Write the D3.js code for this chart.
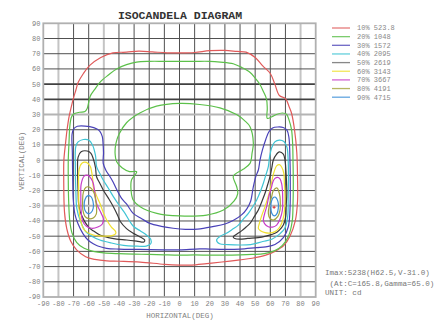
<!DOCTYPE html>
<html><head><meta charset="utf-8">
<script src="https://cdn.jsdelivr.net/npm/d3@7"></script>
<style>body{margin:0;background:#fff}svg{display:block}text{font-family:"Liberation Mono","DejaVu Sans Mono",monospace}</style>
</head><body><svg id="c" width="443" height="320"></svg>
<script>
const title = "ISOCANDELA DIAGRAM";
const xTicks = [-90,-80,-70,-60,-50,-40,-30,-20,-10,0,10,20,30,40,50,60,70,80,90];
const yTicks = [90,80,70,60,50,40,30,20,10,0,-10,-20,-30,-40,-50,-60,-70,-80,-90];
const levels = ["10%","20%","30%","40%","50%","60%","70%","80%","90%"];
const levelValues = ["523.8","1048","1572","2095","2619","3143","3667","4191","4715"];
const levelColors = ["#e05a5a","#5cc04a","#4a42b8","#40c4d4","#3a3a3a","#f0e030","#c83cc8","#a4a43c","#3c90d8"];
const infoLines = ["Imax:5238(H62.5,V-31.0)"," (At:C=165.8,Gamma=65.0)","UNIT: cd"];
const peak = [62.5,-31.0];

// contour polylines (H, V) in degrees, each closed
const c10 = [[-44,70.6],[-35,71],[-27,71.7],[-18,71.2],[-8,70.6],[0,70.5],[10,70.8],[20,72],[30,72.2],[38,71.5],[44,71],[50,67.5],[55,62],[60,57],[63,50],[66,42.5],[70,40.5],[72.5,35],[74,31],[76,20],[77.5,5],[78,-12],[78,-27],[76.5,-40],[73,-50],[69,-56],[63,-60],[57,-62.5],[48,-64.5],[40,-65.6],[28,-67],[18,-68],[8,-69],[0,-69],[-10,-68.5],[-26,-67],[-40,-66.5],[-48,-66.3],[-56,-65.3],[-62,-63.5],[-68,-59],[-72,-53],[-74.5,-45],[-76,-34],[-76.5,-12],[-76.4,0],[-75.2,12],[-74.3,20],[-72.9,29],[-71.5,35],[-70.3,40],[-68.5,46],[-67,51],[-63.5,57],[-59.3,62.3],[-52,67.5]];
const c20a = [[-73.5,0],[-73,12],[-72.5,22],[-71.5,28],[-70,30.3],[-66,31.5],[-62.5,32],[-61,34],[-60,38],[-59,42.1],[-56,46.5],[-52.6,51.2],[-47,56],[-41.6,60],[-35,62.8],[-28.4,64.5],[-20,65],[-10,65],[0,65],[10,65],[20,65],[27,64.5],[35.5,63.4],[41,61],[46.5,57.8],[50,54],[53,50.1],[55.5,45],[57.5,40.2],[58,34],[58,27.5],[61,28.5],[64,30],[68,31],[70.7,30.2],[72.5,26],[74,20.3],[74.8,10],[75,0],[75.2,-15],[75,-30],[74.5,-40],[72,-50],[68,-56],[63,-59.5],[56,-61.5],[48,-62],[40,-62.3],[30,-62.5],[20,-62.5],[10,-62.3],[0,-62.5],[-10,-62.3],[-20,-62],[-30,-61.8],[-40,-61.5],[-50,-61],[-57,-60],[-63,-58],[-68,-54],[-71,-48],[-72.5,-40],[-73.3,-25],[-73.5,-12]];
const c20b = [[0,37.3],[13.4,36.6],[26.7,34.4],[37.7,30],[43,26],[46.6,22],[48.8,11.1],[48,5],[46.6,-2.1],[42,-6],[37,-9],[35.5,-10.9],[37.8,-17.5],[38.5,-22],[36,-27],[29,-32.8],[18,-36.1],[0,-36.7],[-15,-35],[-26,-30.6],[-30.6,-26.2],[-32,-20],[-31.7,-13],[-28.3,-7.6],[-33,-7.5],[-38,-5],[-41.5,-1],[-42.6,5],[-42,11],[-40,17],[-35,24.6],[-26.2,31],[-15.2,35.5]];
const c30 = [[-71,17],[-70,20.5],[-67.5,22.3],[-59.3,22],[-54.5,20.5],[-52.6,19],[-51,15.5],[-50.5,11],[-50.2,4.8],[-50.4,-2.1],[-48.5,-7],[-45.9,-10.9],[-43.8,-14.5],[-41.5,-19.3],[-38,-25.5],[-34.9,-29],[-30.6,-35],[-25,-38.5],[-19.6,-41.6],[-12,-43.5],[-4.2,-44.8],[4,-45.5],[12,-45.3],[22,-43.7],[30,-42],[36,-39.4],[41,-36],[44.5,-32],[47,-27],[48.8,-17.4],[50.5,-10.5],[52.1,-6.5],[53.2,0],[54.8,6.7],[57,13.6],[59,18.5],[61.5,21.2],[65,21.8],[68.5,21.5],[71,19.8],[72.3,15],[73,0.1],[73.2,-15],[73,-32.8],[71.9,-43.8],[68.6,-51],[63.1,-55.5],[57,-57],[50.9,-57.5],[40,-58.5],[31,-58.7],[20,-58.5],[13.4,-58.3],[0.2,-59],[-10,-59],[-26.2,-58.7],[-40,-58.5],[-48.2,-58],[-54,-56.5],[-57,-55],[-60.5,-52.5],[-63.7,-48.5],[-67,-42],[-69,-36],[-70.2,-26],[-70.6,-10],[-70.8,5]];
const c40L = [[-68.5,9],[-67,12],[-63.5,13.6],[-60,13.2],[-57.5,10],[-55.5,3],[-54.8,-4.3],[-52.5,-9],[-50.4,-13.1],[-47,-18.5],[-43.7,-24],[-40,-29.5],[-36,-35],[-33,-40],[-30.5,-43.5],[-26,-46.5],[-21.5,-49.5],[-19,-52],[-19,-55],[-22,-56.5],[-30,-56.5],[-37,-56],[-45,-54.5],[-52.6,-52.5],[-58,-50],[-62,-47],[-65.5,-40],[-67.8,-32],[-68.5,-20],[-68.8,-5]];
const c40R = [[63,12],[66,13.2],[69,12.3],[71,8.5],[71.8,0],[72,-10.9],[71.8,-25],[71.5,-37],[69.5,-45],[66.3,-48.5],[61,-52],[55,-53.5],[47,-55.5],[40,-55.8],[32,-55.5],[26.5,-55],[24.5,-52.5],[27,-50],[31,-48.1],[35,-45.5],[38.9,-42.7],[42,-39],[45.5,-35],[48.5,-30.5],[51,-26.2],[53.5,-20.5],[55.4,-15.2],[57,-10],[58.7,-4.3],[59.5,2],[60.9,8.1]];
const c50L = [[-67,2],[-65,5.5],[-61,6],[-58.5,4.5],[-57,1],[-55.5,-5],[-54.8,-10.9],[-52.5,-15.5],[-50.4,-19.6],[-47,-25],[-43.7,-30.6],[-41,-36],[-39,-40.5],[-35,-45],[-30.6,-48.1],[-26,-50.5],[-23,-52.5],[-23.5,-53.8],[-28.4,-53.2],[-35,-52.5],[-41.6,-52],[-47,-51],[-52.6,-49.2],[-57,-46.5],[-60.4,-43.7],[-64.8,-36.1],[-66.5,-30],[-67,-20],[-67.3,-8]];
const c50R = [[64.2,4],[66,5.5],[68.6,4],[69.7,0],[70.5,-10],[70.9,-21.8],[70.5,-30],[70.2,-37.2],[68.6,-42.7],[66,-46],[63.1,-48.1],[57,-50],[52,-51],[45,-51.5],[39.9,-52],[36.5,-51.5],[35.5,-50.5],[37,-49.2],[41,-46.5],[44,-44],[46.6,-41.6],[49.5,-37],[52.1,-32.8],[54.5,-27],[56.5,-21.8],[58.3,-16],[59.8,-10.9],[61,-5],[62,0.1]];
const c60L = [[-66.3,-6],[-64.5,-2],[-61.5,-1.5],[-59,-4],[-58,-8],[-57.3,-13],[-57,-17.4],[-55,-23],[-52.6,-28.4],[-50.5,-34],[-48.1,-39.4],[-45,-44],[-42.5,-46.5],[-42,-48],[-44,-49.5],[-48,-50],[-53,-49.8],[-57,-49.2],[-61,-47.5],[-63.6,-44.9],[-65.5,-39],[-66.4,-32],[-66.6,-20]];
const c60R = [[64.2,-3.8],[66,-3],[67.5,-4.5],[69,-9],[69.3,-15],[69.7,-22],[69.7,-28.4],[69,-36],[67.5,-41.6],[65.5,-45],[63.1,-47],[59.5,-48],[56.5,-47.7],[53.5,-46.5],[52.1,-44.9],[52.8,-41.5],[54.5,-36],[56.5,-30.6],[58.3,-25],[59.8,-19.6],[61,-14],[62.2,-8.7]];
const c70L = [[-65,-16],[-63,-10.5],[-60.5,-10],[-58.5,-12],[-57,-15.2],[-56,-21],[-54.8,-28.4],[-52,-34.5],[-50.3,-38.5],[-51,-42],[-54,-44],[-58,-44.8],[-61.5,-43.5],[-64,-40],[-65,-33],[-65.2,-24]];
const c70R = [[63.1,-12],[64.8,-11.3],[66.4,-12.3],[67.5,-15.5],[68,-19.6],[68.2,-26],[68,-32.8],[66.5,-38.5],[64.2,-42.7],[61.5,-44],[58.7,-43.8],[56.2,-41.8],[55.4,-39.4],[56.3,-35],[57.6,-30.6],[59,-24],[60.9,-17.4],[61.8,-14]];
const c80L = [[-63.5,-21],[-61.8,-17.8],[-59,-18],[-56.5,-21.5],[-55.5,-26],[-54.8,-31],[-55,-35.5],[-57,-38],[-60,-38.5],[-62.5,-37],[-63.8,-33],[-64,-26]];
const c80R = [[63.1,-18.8],[64.5,-18.3],[65.5,-20.3],[66.4,-24],[66.6,-28.5],[66.4,-32.8],[65,-37],[62,-39.4],[59.8,-38.3],[58.7,-35],[59.3,-30],[60.9,-24],[61.8,-20.5]];
const c90L = [[-62.5,-26],[-60.8,-23.5],[-58.5,-24],[-57.2,-27],[-57,-31.5],[-58.5,-34.5],[-60.5,-35.2],[-62.5,-33],[-63,-29.5]];
const c90R = [[62,-24.6],[63.3,-24.3],[64.4,-25.5],[65.3,-28.5],[65.3,-31.5],[64.5,-35],[62.7,-36.7],[61,-35],[60.4,-31],[60.8,-27]];

const contours = [
  {lv:0, pts:c10},{lv:1, pts:c20a},{lv:1, pts:c20b},{lv:2, pts:c30},
  {lv:3, pts:c40L},{lv:3, pts:c40R},{lv:4, pts:c50L},{lv:4, pts:c50R},
  {lv:5, pts:c60L},{lv:5, pts:c60R},{lv:6, pts:c70L},{lv:6, pts:c70R},
  {lv:7, pts:c80L},{lv:7, pts:c80R},{lv:8, pts:c90L},{lv:8, pts:c90R}
];

const svg = d3.select("#c");
const x = d3.scaleLinear().domain([-90,90]).range([43.3,315.7]);
const y = d3.scaleLinear().domain([-90,90]).range([297,23.3]);

const lightV = new Set([-80,-50,80]);
const lightH = new Set([30,-30]);
const darkH = new Set([50,40]);

const g = svg.append("g");
// grid
g.selectAll(".gv").data(xTicks.slice(1,-1)).join("line")
  .attr("x1",d=>x(d)).attr("x2",d=>x(d)).attr("y1",y(90)).attr("y2",y(-90))
  .attr("stroke",d=>lightV.has(d)?"#c4c4c4":"#505050").attr("stroke-width",d=>lightV.has(d)?2:1);
g.selectAll(".gh").data(yTicks.slice(1,-1)).join("line")
  .attr("y1",d=>y(d)).attr("y2",d=>y(d)).attr("x1",x(-90)).attr("x2",x(90))
  .attr("stroke",d=>lightH.has(d)?"#b4b4b4":(darkH.has(d)?"#404040":"#505050"))
  .attr("stroke-width",d=>lightH.has(d)?2:(darkH.has(d)?1.6:1));
g.append("rect").attr("x",x(-90)).attr("y",y(90)).attr("width",x(90)-x(-90)).attr("height",y(-90)-y(90))
  .attr("fill","none").attr("stroke","#b0b0b0").attr("stroke-width",1.8);

// contours
const line = d3.line().x(d=>x(d[0])).y(d=>y(d[1])).curve(d3.curveCatmullRomClosed.alpha(0.5));
g.selectAll(".ct").data(contours).join("path")
  .attr("d",d=>line(d.pts)).attr("fill","none")
  .attr("stroke",d=>levelColors[d.lv]).attr("stroke-width",1.2);

// peak marker
g.append("path").attr("d",`M${x(peak[0])-1.5},${y(peak[1])}h3M${x(peak[0])},${y(peak[1])-1.5}v3`)
  .attr("stroke","#e03030").attr("stroke-width",1);

// axes labels
const tickCol = "#808080";
svg.selectAll(".yl").data(yTicks).join("text")
  .attr("x",40.5).attr("y",d=>y(d)+2.4).attr("text-anchor","end")
  .attr("font-size",7).attr("fill",tickCol).text(d=>d);
svg.selectAll(".xl").data(xTicks).join("text")
  .attr("x",d=>x(d)).attr("y",306).attr("text-anchor","middle")
  .attr("font-size",7).attr("fill",tickCol).text(d=>d);

svg.append("text").attr("x",180).attr("y",19).attr("text-anchor","middle")
  .attr("font-size",11.5).attr("font-weight","bold").attr("fill","#333").text(title);
svg.append("text").attr("x",180).attr("y",318).attr("text-anchor","middle")
  .attr("font-size",7.5).attr("fill",tickCol).text("HORIZONTAL(DEG)");
svg.append("text").attr("transform","translate(24,161) rotate(-90)").attr("text-anchor","middle")
  .attr("font-size",7.5).attr("fill",tickCol).text("VERTICAL(DEG)");

// legend
const lg = svg.append("g");
levels.forEach((l,i)=>{
  const yy = 28 + i*8.65;
  lg.append("line").attr("x1",332).attr("x2",350).attr("y1",yy).attr("y2",yy)
    .attr("stroke",levelColors[i]).attr("stroke-width",1.3).attr("opacity",i===4?0.6:0.8);
  lg.append("text").attr("x",357).attr("y",yy+2.4).attr("font-size",7).attr("fill","#888")
    .attr("xml:space","preserve").text(l+" "+levelValues[i]);
});

// info
infoLines.forEach((t,i)=>{
  svg.append("text").attr("x",325).attr("y",[275,285.5,295][i]).attr("font-size",7.6)
    .attr("fill","#777").attr("xml:space","preserve").text(t);
});
</script></body></html>
